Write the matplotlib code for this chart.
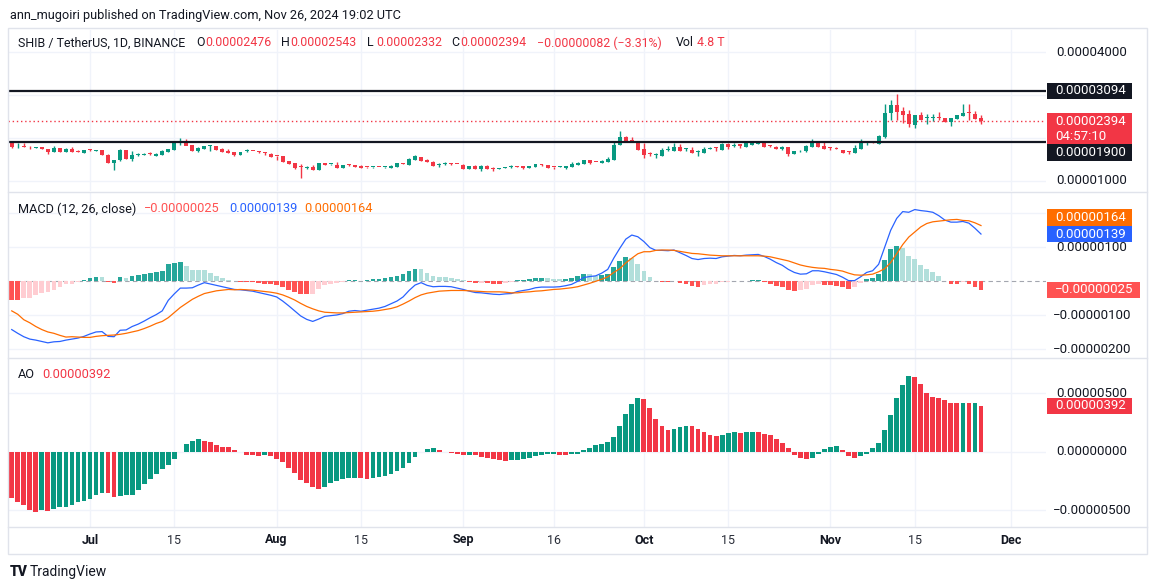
import numpy as np
import pandas as pd
import matplotlib
matplotlib.use("Agg")
import matplotlib.pyplot as plt
from matplotlib.patches import Rectangle
from matplotlib.lines import Line2D

# prices in units of 1e-8 USDT, daily from 2024-06-18
start_date = "2024-06-18"
opens = [1915, 1780, 1792, 1786, 1778, 1790, 1744, 1682, 1767, 1682, 1752, 1690, 1659, 1721, 1708, 1716,
         1612, 1426, 1488, 1721, 1519, 1610, 1615, 1628, 1590, 1612, 1682, 1729, 1895, 1937, 1837, 1705,
         1752, 1810, 1814, 1752, 1698, 1674, 1612, 1700, 1700, 1695, 1660, 1628, 1585, 1574, 1465, 1411,
         1320, 1310, 1333, 1256, 1411, 1390, 1372, 1310, 1372, 1372, 1357, 1320, 1315, 1328, 1315, 1310,
         1333, 1400, 1380, 1496, 1558, 1496, 1450, 1365, 1395, 1395, 1392, 1380, 1287, 1357, 1287, 1357,
         1310, 1287, 1300, 1318, 1336, 1342, 1303, 1334, 1373, 1373, 1318, 1322, 1311, 1334, 1380, 1404,
         1489, 1445, 1419, 1443, 1489, 1838, 2032, 1962, 1931, 1745, 1630, 1613, 1582, 1714, 1706, 1791,
         1737, 1722, 1667, 1659, 1755, 1762, 1722, 1869, 1825, 1853, 1799, 1845, 1870, 1900, 1815, 1799,
         1737, 1792, 1636, 1710, 1706, 1799, 1900, 1815, 1765, 1760, 1722, 1680, 1660, 1753, 1895, 1905,
         1861, 2032, 2582, 2768, 2628, 2559, 2303, 2536, 2455, 2455, 2470, 2466, 2365, 2443, 2505, 2585,
         2559, 2476]
highs = [1930, 1876, 1876, 1810, 1800, 1800, 1750, 1806, 1775, 1760, 1790, 1721, 1725, 1752, 1725, 1725,
         1620, 1490, 1736, 1730, 1690, 1651, 1640, 1682, 1640, 1710, 1750, 1900, 1992, 1976, 1845, 1780,
         1815, 1837, 1820, 1760, 1736, 1680, 1680, 1740, 1705, 1700, 1680, 1640, 1590, 1580, 1470, 1420,
         1395, 1357, 1372, 1415, 1420, 1405, 1450, 1375, 1385, 1380, 1365, 1330, 1320, 1335, 1330, 1365,
         1420, 1410, 1525, 1600, 1565, 1510, 1460, 1411, 1440, 1410, 1395, 1390, 1360, 1365, 1362, 1365,
         1320, 1295, 1320, 1373, 1342, 1345, 1345, 1400, 1404, 1378, 1320, 1350, 1355, 1435, 1430, 1495,
         1495, 1450, 1480, 1559, 1923, 2163, 2040, 2016, 1940, 1876, 1683, 1660, 1768, 1815, 1876, 1861,
         1768, 1783, 1722, 1783, 1783, 1799, 1880, 1875, 1892, 1860, 1923, 1900, 1900, 1905, 1830, 1805,
         1805, 1800, 1700, 1730, 1830, 1978, 1905, 1900, 1799, 1792, 1730, 1706, 1838, 1978, 1931, 1910,
         2060, 2783, 2892, 3024, 2722, 2652, 2536, 2597, 2551, 2551, 2597, 2470, 2470, 2540, 2783, 2783,
         2628, 2543]
lows = [1770, 1770, 1780, 1736, 1770, 1736, 1636, 1675, 1675, 1675, 1675, 1666, 1655, 1690, 1700, 1605,
        1420, 1264, 1473, 1515, 1473, 1589, 1600, 1605, 1580, 1605, 1675, 1720, 1837, 1830, 1690, 1682,
        1745, 1698, 1725, 1675, 1650, 1574, 1605, 1666, 1690, 1651, 1605, 1560, 1480, 1440, 1390, 1290,
        1078, 1287, 1256, 1250, 1365, 1380, 1300, 1305, 1355, 1320, 1305, 1305, 1310, 1315, 1305, 1305,
        1330, 1385, 1375, 1490, 1465, 1430, 1340, 1333, 1380, 1380, 1385, 1280, 1280, 1280, 1240, 1280,
        1225, 1280, 1295, 1310, 1330, 1280, 1300, 1330, 1350, 1311, 1287, 1318, 1287, 1330, 1375, 1400,
        1396, 1440, 1415, 1440, 1480, 1830, 1908, 1900, 1720, 1543, 1590, 1543, 1575, 1690, 1700, 1700,
        1690, 1650, 1590, 1650, 1737, 1706, 1715, 1752, 1791, 1760, 1795, 1840, 1860, 1790, 1800, 1737,
        1730, 1590, 1630, 1683, 1683, 1795, 1790, 1745, 1714, 1750, 1660, 1636, 1655, 1750, 1830, 1890,
        1855, 2008, 2427, 2427, 2342, 2264, 2241, 2420, 2318, 2400, 2427, 2365, 2287, 2440, 2500, 2427,
        2440, 2332]
closes = [1780, 1792, 1785, 1780, 1786, 1740, 1682, 1767, 1682, 1752, 1682, 1682, 1721, 1715, 1716, 1612,
          1426, 1488, 1721, 1519, 1605, 1620, 1622, 1622, 1636, 1705, 1744, 1891, 1914, 1822, 1705, 1775,
          1806, 1814, 1729, 1682, 1659, 1612, 1674, 1708, 1695, 1685, 1643, 1566, 1575, 1450, 1395, 1295,
          1315, 1320, 1260, 1411, 1372, 1395, 1310, 1372, 1365, 1326, 1310, 1315, 1318, 1324, 1320, 1357,
          1411, 1390, 1512, 1574, 1473, 1434, 1349, 1372, 1405, 1388, 1388, 1287, 1357, 1287, 1357, 1287,
          1271, 1290, 1310, 1350, 1334, 1303, 1342, 1396, 1370, 1311, 1315, 1326, 1350, 1404, 1427, 1489,
          1419, 1443, 1474, 1520, 1838, 2032, 1931, 1900, 1722, 1605, 1629, 1613, 1722, 1722, 1791, 1706,
          1737, 1659, 1667, 1745, 1762, 1758, 1869, 1799, 1832, 1815, 1876, 1892, 1876, 1799, 1812, 1737,
          1799, 1629, 1698, 1716, 1822, 1900, 1799, 1753, 1761, 1753, 1660, 1675, 1776, 1892, 1900, 1900,
          2055, 2582, 2760, 2613, 2536, 2318, 2536, 2427, 2458, 2460, 2466, 2365, 2466, 2536, 2582, 2578,
          2450, 2394]

# MACD (12, 26, close) line and histogram, units of 1e-8
macd_line = [-142, -153, -163, -170, -173, -177, -181, -178, -177, -173, -170, -167, -162, -155, -149, -148,
             -162, -163, -144, -143, -133, -126, -117, -107, -98, -87, -56, -37, -20, -20, -19, -11,
             -4, -8, -12, -16, -20, -24, -25, -27, -29, -33, -37, -41, -46, -58, -72, -87,
             -102, -112, -118, -111, -103, -101, -99, -95, -88, -86, -88, -85, -82, -79, -74, -66,
             -58, -46, -27, -11, -4, -12, -16, -15, -15, -16, -20, -24, -29, -33, -34, -36,
             -38, -39, -37, -36, -30, -27, -24, -19, -17, -17, -17, -16, -13, -9, 0, 11,
             14, 16, 24, 35, 68, 97, 124, 136, 131, 117, 99, 91, 91, 90, 92, 84,
             76, 67, 64, 67, 68, 67, 72, 74, 76, 75, 77, 78, 79, 73, 65, 55,
             47, 35, 26, 21, 22, 31, 31, 28, 24, 20, 12, 2, 2, 13, 26, 31,
             50, 100, 150, 185, 205, 203, 211, 208, 206, 203, 193, 180, 174, 174, 176, 171,
             156, 139]
macd_hist = [-55, -56, -50, -48, -40, -35, -32, -25, -18, -9, -7, -3, 3, 10, 13, 12,
             -3, -5, 12, 10, 16, 19, 22, 25, 26, 31, 51, 55, 57, 45, 34, 33,
             32, 24, 16, 10, 4, 1, -1, -2, -3, -5, -7, -9, -11, -18, -25, -32,
             -37, -38, -37, -24, -12, -9, -6, -2, 4, 5, 2, 4, 6, 7, 9, 14,
             17, 21, 31, 37, 36, 23, 16, 14, 13, 11, 7, 3, -1, -4, -4, -5,
             -7, -8, -5, -2, 4, 5, 7, 10, 11, 9, 7, 7, 8, 10, 16, 22,
             20, 16, 18, 22, 42, 60, 70, 68, 50, 30, 12, 0, -1, -2, 1, -4,
             -9, -15, -17, -12, -9, -9, -3, -1, 1, 0, 2, 3, 4, -1, -7, -13,
             -17, -25, -28, -27, -22, -10, -8, -10, -11, -13, -18, -22, -17, -5, 7, 10,
             22, 63, 95, 104, 97, 73, 66, 48, 36, 28, 16, 1, -7, -8, -3, -7,
             -16, -25]

# Awesome Oscillator, units of 1e-8
ao_values = [-398, -426, -455, -497, -512, -497, -503, -486, -475, -469, -455, -426, -418, -401, -369, -349,
             -352, -383, -378, -372, -366, -324, -276, -232, -192, -150, -110, -65, -5, 67, 92, 109,
             92, 84, 58, 41, 40, 15, -2, -27, -28, -36, -27, -36, -61, -87, -136, -181,
             -241, -267, -301, -315, -301, -267, -247, -230, -224, -220, -222, -230, -221, -215, -207, -193,
             -161, -135, -95, -44, -5, 21, 33, 15, 2, -10, -19, -27, -25, -28, -41, -50,
             -61, -70, -76, -74, -67, -59, -50, -33, -24, -23, -22, -24, -25, -23, -16, 15,
             32, 58, 67, 84, 126, 221, 323, 409, 460, 451, 374, 280, 221, 186, 195, 212,
             221, 219, 195, 169, 144, 135, 144, 161, 169, 161, 169, 170, 168, 152, 144, 109,
             75, 32, -27, -53, -61, -53, -19, 24, 41, 50, 15, -36, -53, -36, -19, 32,
             75, 186, 315, 460, 571, 648, 639, 579, 503, 468, 460, 443, 421, 413, 418, 416,
             418, 392]

level_lines = [3094, 1900]
tick_dates = ["2024-07-01", "2024-07-15", "2024-08-01", "2024-08-15", "2024-09-01", "2024-09-16",
              "2024-10-01", "2024-10-15", "2024-11-01", "2024-11-15", "2024-12-01"]
tick_labels = ["Jul", "15", "Aug", "15", "Sep", "16", "Oct", "15", "Nov", "15", "Dec"]

GREEN = "#089981"
RED = "#F23645"
INK = "#131722"
GRID = "#F0F3FA"
BORDER = "#E0E3EB"

W, H = 1154, 588
plt.rcParams["font.family"] = ["Roboto", "DejaVu Sans"]
fig = plt.figure(figsize=(W / 100, H / 100), dpi=100)
fig.patch.set_facecolor("white")


def px_axes(x0, y0, x1, y1):
    ax = fig.add_axes([x0 / W, 1 - y1 / H, (x1 - x0) / W, (y1 - y0) / H])
    for s in ax.spines.values():
        s.set_visible(False)
    ax.set_xticks([])
    ax.set_yticks([])
    ax.patch.set_alpha(0)
    return ax


def fmt(v):
    s = f"{abs(v) / 1e8:.8f}"
    return ("\u2212" + s) if v < 0 else s


def ypix(ax, v):
    return H - ax.transData.transform((0, v))[1]


def ftext(x, y, s, **kw):
    kw.setdefault("va", "center")
    kw.setdefault("ha", "left")
    kw.setdefault("color", INK)
    kw.setdefault("fontsize", 9.5)
    return fig.text(x / W, 1 - y / H, s, **kw)


def tag(y_center, lines, fc, width=85, h=16.5):
    top = y_center - h / 2
    rect = Rectangle((1047 / W, 1 - (top + h * len(lines)) / H), width / W, h * len(lines) / H,
                     transform=fig.transFigure, fc=fc, ec="none", zorder=5)
    fig.add_artist(rect)
    for k, s in enumerate(lines):
        ftext(1055, y_center + k * 15, s, color="white", zorder=6)


n = len(closes)
x = np.arange(n)
start = pd.Timestamp(start_date)
tick_pos = [(pd.Timestamp(d) - start).days for d in tick_dates]
xlim = (-0.62, 171.8)

ax_p = px_axes(8, 30, 1046, 191)
ax_m = px_axes(8, 193, 1046, 358)
ax_a = px_axes(8, 359, 1046, 527)
ax_p.set_ylim(767, 4512)
ax_m.set_ylim(-225.6, 259.7)
ax_a.set_ylim(-643, 793)
for ax in (ax_p, ax_m, ax_a):
    ax.set_xlim(*xlim)
    for t in tick_pos:
        ax.axvline(t, color=GRID, lw=1, zorder=0)

# ---- price panel
o = np.array(opens)
c = np.array(closes)
hi = np.array(highs)
lo = np.array(lows)
col = np.where(c >= o, GREEN, RED)
for v in [1000, 2000, 3000, 4000]:
    ax_p.axhline(v, color=GRID, lw=1, zorder=0)
ax_p.vlines(x, lo, hi, colors=col, lw=1, zorder=2)
ax_p.bar(x, np.maximum(np.abs(c - o), 22), bottom=np.minimum(o, c), width=0.66, color=col, lw=0, zorder=3)
for v in level_lines:
    ax_p.axhline(v, color=INK, lw=1.6, zorder=4)
ax_p.axhline(closes[-1], color=RED, lw=1, ls=(0, (1, 2)), zorder=1)

# ---- MACD panel
macd = np.array(macd_line)
hist = np.array(macd_hist)
signal = macd - hist
prev = np.r_[np.inf, hist[:-1]]
hcol = np.where(hist >= 0, np.where(hist > prev, "#26A69A", "#B2DFDB"),
                np.where(hist < prev, "#FF5252", "#FFCDD2"))
for v in [-200, -100, 100, 200]:
    ax_m.axhline(v, color=GRID, lw=1, zorder=0)
ax_m.axhline(0, color="#A3A6AF", lw=0.8, ls=(0, (4, 3)), zorder=1)
ax_m.bar(x, hist, width=0.78, color=hcol, lw=0, zorder=2)
ax_m.plot(x, macd, color="#2962FF", lw=0.9, zorder=3)
ax_m.plot(x, signal, color="#FF6D00", lw=0.9, zorder=3)

# ---- AO panel
ao = np.array(ao_values)
aprev = np.r_[np.inf, ao[:-1]]
acol = np.where(ao > aprev, GREEN, RED)
for v in [-500, 0, 500]:
    ax_a.axhline(v, color=GRID, lw=1, zorder=0)
ax_a.bar(x, ao, width=0.8, color=acol, lw=0, zorder=2)

# ---- frame and separators
fig.add_artist(Rectangle((8 / W, 1 - 554 / H), (1147 - 8) / W, (554 - 28) / H, transform=fig.transFigure,
                         fc="none", ec=BORDER, lw=1))
for yy in (192, 358, 527):
    fig.add_artist(Line2D([8 / W, 1147 / W], [1 - yy / H, 1 - yy / H], transform=fig.transFigure,
                          color=BORDER, lw=1))

# ---- right scale labels (those hidden behind the value tags are left out)
for v in [4000, 1000]:
    ftext(1056, ypix(ax_p, v), fmt(v))
for v in [100, -100, -200]:
    ftext(1056 if v >= 0 else 1053, ypix(ax_m, v), fmt(v))
for v in [500, 0, -500]:
    ftext(1056 if v >= 0 else 1053, ypix(ax_a, v), fmt(v))

tag(ypix(ax_p, level_lines[0]), [fmt(level_lines[0])], INK)
tag(ypix(ax_p, closes[-1]), [fmt(closes[-1]), "04:57:10"], RED, h=16)
tag(ypix(ax_p, level_lines[1]) + 10, [fmt(level_lines[1])], INK)
tag(ypix(ax_m, signal[-1]) - 8, [fmt(signal[-1])], "#FF6D00")
tag(ypix(ax_m, macd[-1]), [fmt(macd[-1])], "#2962FF")
tag(ypix(ax_m, hist[-1]), [fmt(hist[-1])], "#FF5252", width=93)
tag(ypix(ax_a, ao[-1]), [fmt(ao[-1])], RED)

# ---- date labels
for pos, lab in zip(tick_pos, tick_labels):
    xp = ax_a.transData.transform((pos, 0))[0]
    bold = not lab.isdigit()
    ftext(xp, 540, lab, ha="center", fontsize=9, fontweight="bold" if bold else "normal",
          color=INK if bold else "#2A2E39")

# ---- header and legends
ftext(10, 15, "ann_mugoiri published on TradingView.com, Nov 26, 2024 19:02 UTC", fontsize=9.2)
LG = 8.9
ftext(18, 43, "SHIB / TetherUS, 1D, BINANCE", fontsize=LG)
chg = closes[-1] - opens[-1]
for xx, letter, val in [(196, "O", opens[-1]), (281, "H", highs[-1]), (367, "L", lows[-1]), (451, "C", closes[-1])]:
    ftext(xx, 43, letter, fontsize=LG)
    ftext(xx + 9, 43, fmt(val), fontsize=LG, color=RED)
ftext(537, 43, f"{fmt(chg)} (\u2212{abs(chg) / opens[-1] * 100:.2f}%)", fontsize=LG, color=RED)
ftext(676, 43, "Vol", fontsize=LG)
ftext(697, 43, "4.8 T", fontsize=LG, color=RED)

ftext(18, 209, "MACD (12, 26, close)", fontsize=9.2)
ftext(144, 209, fmt(hist[-1]), fontsize=9.2, color="#FF5252")
ftext(229, 209, fmt(macd[-1]), fontsize=9.2, color="#2962FF")
ftext(304, 209, fmt(signal[-1]), fontsize=9.2, color="#FF6D00")

ftext(18, 375, "AO", fontsize=9.2)
ftext(42, 375, fmt(ao[-1]), fontsize=9.2, color=RED)

# ---- footer
ftext(10, 572, "TV", fontsize=10, fontweight="heavy")
ftext(30, 572, "TradingView", fontsize=10)

fig.savefig("out.png", dpi=100)
